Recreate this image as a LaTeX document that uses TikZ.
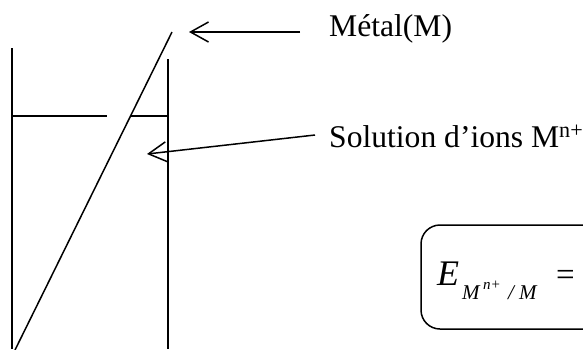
\documentclass[tikz,border=0pt]{standalone}
\usepackage{fontspec}
\setmainfont{Liberation Serif}
\usetikzlibrary{arrows.meta}
\tikzset{
 ln/.style={line width=1.5pt,black},
 arw/.style={ln,-{Straight Barb[length=18pt,width=20pt,line width=1.5pt]}},
 lab/.style={anchor=base west,inner sep=0pt,font=\fontsize{31.6}{34}\selectfont},
 big/.style={anchor=base west,inner sep=0pt,font=\fontsize{36}{40}\selectfont\itshape},
 subs/.style={anchor=base west,inner sep=0pt,font=\fontsize{21}{26}\selectfont\itshape},
 sups/.style={anchor=base west,inner sep=0pt,font=\fontsize{15}{18}\selectfont\itshape},
 eqsign/.style={anchor=base west,inner sep=0pt,font=\fontsize{33}{40}\selectfont}
}
\begin{document}
\begin{tikzpicture}[x=1pt,y=-1pt]
\useasboundingbox (0,0) rectangle (583,349);
\clip (0,0) rectangle (583,349);
\coordinate (wl1) at (12,48); \coordinate (wl2) at (12,349);
\coordinate (wr1) at (168,59); \coordinate (wr2) at (168,349);
\coordinate (l1) at (12,116); \coordinate (l2) at (107,116);
\coordinate (l3) at (130,116); \coordinate (l4) at (168,116);
\coordinate (e1) at (172,32); \coordinate (e2) at (15,350);
\coordinate (a1s) at (300,32); \coordinate (a1e) at (189,32);
\coordinate (a2s) at (315,135); \coordinate (a2e) at (147,154);
\draw[ln] (wl1)--(wl2);
\draw[ln] (wr1)--(wr2);
\draw[ln] (l1)--(l2);
\draw[ln] (l3)--(l4);
\draw[ln] (e1)--(e2);
\draw[arw] (a1s)--(a1e);
\draw[arw] (a2s)--(a2e);
\node[lab] (t1) at (329,36) {Métal(M)};
\node[lab] (t2) at (329,147) {Solution d’ions M\textsuperscript{n+}};
\draw[ln,rounded corners=19pt] (620,225) -- (421,225) -- (421,329) -- (620,329);
\node[big] (eq) at (437,285) {E};
\node[subs] (sb) at (462,299) {M};
\node[sups] (sp) at (483,289) {n+};
\node[subs] (sl) at (508,299) {/};
\node[subs] (sc) at (519,299) {M};
\node[eqsign] (eqs) at (556,285) {=};
\end{tikzpicture}
\end{document}
